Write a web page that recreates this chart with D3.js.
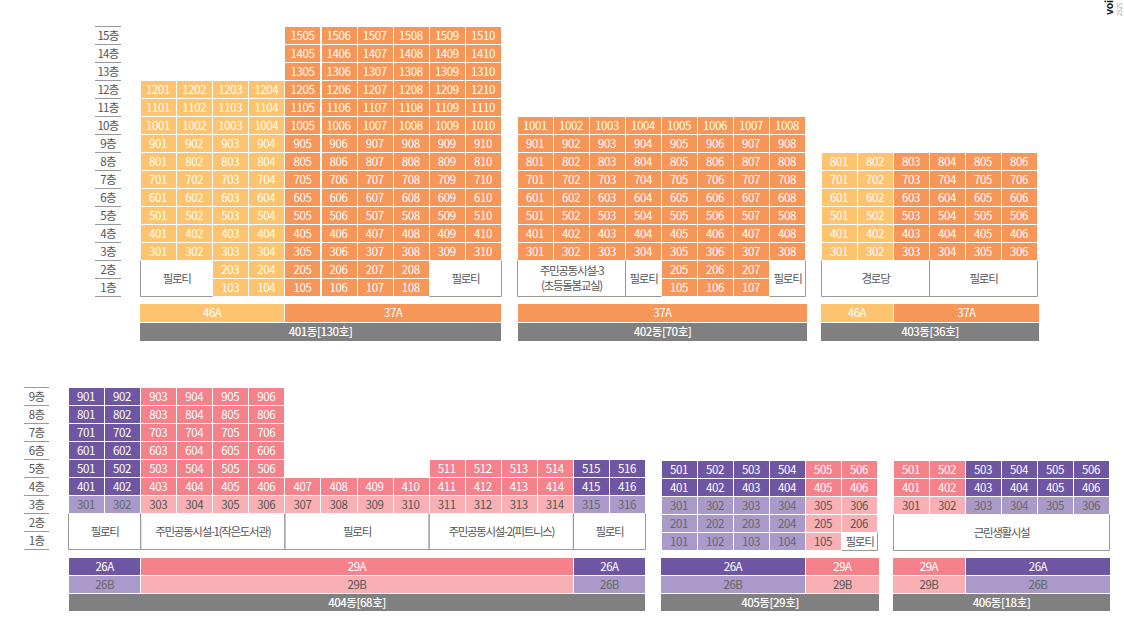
<!DOCTYPE html>
<html>
<head>
<meta charset="utf-8">
<script src="https://cdn.jsdelivr.net/npm/d3@7"></script>
<style>
  body { margin: 0; background: #fff; }
  text { font-family: "Noto Sans CJK KR", sans-serif; }
  rect { shape-rendering: crispEdges; }
</style>
</head>
<body>
<script>
const _ = null;

// Floor labels for the two rows of buildings
const upperFloors = [15, 14, 13, 12, 11, 10, 9, 8, 7, 6, 5, 4, 3, 2, 1];
const lowerFloors = [9, 8, 7, 6, 5, 4, 3, 2, 1];

// Unit types and their colours
const unitTypes = ["46A", "37A", "26A", "26B", "29A", "29B"];
const typeColors = ["#fdc36e", "#f69658", "#6e56a2", "#a99aca", "#f5828a", "#f8b0b4"];
const typeTextColors = ["#fff", "#fff", "#fff", "#666", "#fff", "#555"];

// 401
const types401 = ["46", "46", "46", "46", "37", "37", "37", "37", "37", "37"];
const rows401 = [
  [15, "A", [_, _, _, _, 1505, 1506, 1507, 1508, 1509, 1510]],
  [14, "A", [_, _, _, _, 1405, 1406, 1407, 1408, 1409, 1410]],
  [13, "A", [_, _, _, _, 1305, 1306, 1307, 1308, 1309, 1310]],
  [12, "A", [1201, 1202, 1203, 1204, 1205, 1206, 1207, 1208, 1209, 1210]],
  [11, "A", [1101, 1102, 1103, 1104, 1105, 1106, 1107, 1108, 1109, 1110]],
  [10, "A", [1001, 1002, 1003, 1004, 1005, 1006, 1007, 1008, 1009, 1010]],
  [9, "A", [901, 902, 903, 904, 905, 906, 907, 908, 909, 910]],
  [8, "A", [801, 802, 803, 804, 805, 806, 807, 808, 809, 810]],
  [7, "A", [701, 702, 703, 704, 705, 706, 707, 708, 709, 710]],
  [6, "A", [601, 602, 603, 604, 605, 606, 607, 608, 609, 610]],
  [5, "A", [501, 502, 503, 504, 505, 506, 507, 508, 509, 510]],
  [4, "A", [401, 402, 403, 404, 405, 406, 407, 408, 409, 410]],
  [3, "A", [301, 302, 303, 304, 305, 306, 307, 308, 309, 310]],
  [2, "A", [_, _, 203, 204, 205, 206, 207, 208, _, _]],
  [1, "A", [_, _, 103, 104, 105, 106, 107, 108, _, _]],
];
const rooms401 = [["필로티", 1, 2, 2, 1], ["필로티", 9, 10, 2, 1]];
const spans401 = [["46A", 1, 4], ["37A", 5, 10]];

// 402
const types402 = ["37", "37", "37", "37", "37", "37", "37", "37"];
const rows402 = [
  [10, "A", [1001, 1002, 1003, 1004, 1005, 1006, 1007, 1008]],
  [9, "A", [901, 902, 903, 904, 905, 906, 907, 908]],
  [8, "A", [801, 802, 803, 804, 805, 806, 807, 808]],
  [7, "A", [701, 702, 703, 704, 705, 706, 707, 708]],
  [6, "A", [601, 602, 603, 604, 605, 606, 607, 608]],
  [5, "A", [501, 502, 503, 504, 505, 506, 507, 508]],
  [4, "A", [401, 402, 403, 404, 405, 406, 407, 408]],
  [3, "A", [301, 302, 303, 304, 305, 306, 307, 308]],
  [2, "A", [_, _, _, _, 205, 206, 207, _]],
  [1, "A", [_, _, _, _, 105, 106, 107, _]],
];
const rooms402 = [["주민공동시설-3\n(초등돌봄교실)", 1, 3, 2, 1], ["필로티", 4, 4, 2, 1], ["필로티", 8, 8, 2, 1]];
const spans402 = [["37A", 1, 8]];

// 403
const types403 = ["46", "46", "37", "37", "37", "37"];
const rows403 = [
  [8, "A", [801, 802, 803, 804, 805, 806]],
  [7, "A", [701, 702, 703, 704, 705, 706]],
  [6, "A", [601, 602, 603, 604, 605, 606]],
  [5, "A", [501, 502, 503, 504, 505, 506]],
  [4, "A", [401, 402, 403, 404, 405, 406]],
  [3, "A", [301, 302, 303, 304, 305, 306]],
];
const rooms403 = [["경로당", 1, 3, 2, 1], ["필로티", 4, 6, 2, 1]];
const spans403 = [["46A", 1, 2], ["37A", 3, 6]];

// 404
const types404 = ["26", "26", "29", "29", "29", "29", "29", "29", "29", "29", "29", "29", "29", "29", "26", "26"];
const rows404 = [
  [9, "A", [901, 902, 903, 904, 905, 906, _, _, _, _, _, _, _, _, _, _]],
  [8, "A", [801, 802, 803, 804, 805, 806, _, _, _, _, _, _, _, _, _, _]],
  [7, "A", [701, 702, 703, 704, 705, 706, _, _, _, _, _, _, _, _, _, _]],
  [6, "A", [601, 602, 603, 604, 605, 606, _, _, _, _, _, _, _, _, _, _]],
  [5, "A", [501, 502, 503, 504, 505, 506, _, _, _, _, 511, 512, 513, 514, 515, 516]],
  [4, "A", [401, 402, 403, 404, 405, 406, 407, 408, 409, 410, 411, 412, 413, 414, 415, 416]],
  [3, "B", [301, 302, 303, 304, 305, 306, 307, 308, 309, 310, 311, 312, 313, 314, 315, 316]],
];
const rooms404 = [
  ["필로티", 1, 2, 2, 1],
  ["주민공동시설-1(작은도서관)", 3, 6, 2, 1],
  ["필로티", 7, 10, 2, 1],
  ["주민공동시설-2(피트니스)", 11, 14, 2, 1],
  ["필로티", 15, 16, 2, 1],
];
const spans404 = [["26", 1, 2], ["29", 3, 14], ["26", 15, 16]];

// 405
const types405 = ["26", "26", "26", "26", "29", "29"];
const rows405 = [
  [5, "A", [501, 502, 503, 504, 505, 506]],
  [4, "A", [401, 402, 403, 404, 405, 406]],
  [3, "B", [301, 302, 303, 304, 305, 306]],
  [2, "B", [201, 202, 203, 204, 205, 206]],
  [1, "B", [101, 102, 103, 104, 105, _]],
];
const rooms405 = [["필로티", 6, 6, 1, 1]];
const spans405 = [["26", 1, 4], ["29", 5, 6]];

// 406
const types406 = ["29", "29", "26", "26", "26", "26"];
const rows406 = [
  [5, "A", [501, 502, 503, 504, 505, 506]],
  [4, "A", [401, 402, 403, 404, 405, 406]],
  [3, "B", [301, 302, 303, 304, 305, 306]],
];
const rooms406 = [["근린생활시설", 1, 6, 2, 1]];
const spans406 = [["29", 1, 2], ["26", 3, 6]];

const svg = d3.select("body").append("svg")
  .attr("width", 1124)
  .attr("height", 630);

const color = d3.scaleOrdinal().domain(unitTypes).range(typeColors);
const textColor = d3.scaleOrdinal().domain(unitTypes).range(typeTextColors);

const cellH = 18;
const upperY = d3.scaleBand().domain(upperFloors).range([27, 27 + upperFloors.length * cellH]);
const lowerY = d3.scaleBand().domain(lowerFloors).range([388, 388 + lowerFloors.length * cellH]);
const upperBarY = d3.scaleBand().domain(["A", "name"]).range([304, 342]);
const lowerBarY = d3.scaleBand().domain(["A", "B", "name"]).range([558, 612]);

// Floor ruler: axis for the labels, plus one thin line per band edge
function drawFloors(floors, y, left, right) {
  const g = svg.append("g").attr("transform", `translate(${right},0)`)
    .call(d3.axisLeft(y).tickSize(0).tickFormat(d => d + "층"));
  g.select(".domain").remove();
  g.selectAll("text")
    .attr("x", (left - right) / 2)
    .attr("text-anchor", "middle")
    .attr("font-size", 11.5)
    .attr("letter-spacing", -0.8)
    .attr("font-family", '"Noto Sans CJK KR", sans-serif')
    .attr("fill", "#555");
  const edges = floors.map(f => y(f)).concat(y(floors[floors.length - 1]) + y.step());
  svg.append("g").selectAll("line")
    .data(edges)
    .join("line")
    .attr("x1", left)
    .attr("x2", right)
    .attr("y1", d => d - 0.5)
    .attr("y2", d => d - 0.5)
    .attr("stroke", "#999");
}

function drawDong(name, xRange, y, barY, shift, lineTypes, rows, rooms, spans, barFrom, barTo) {
  const lines = lineTypes.map((d, i) => i + 1);
  const x = d3.scaleBand().domain(lines).range(xRange);
  const g = svg.append("g").attr("transform", `translate(0,${shift})`);

  const units = rows.flatMap(([floor, wing, nums]) =>
    nums.map((num, i) => ({ num, floor, line: i + 1, type: lineTypes[i] + wing })).filter(d => d.num !== null));
  const occupied = new Set(units.map(d => d.line + "-" + d.floor));

  const cell = g.selectAll("g.cell")
    .data(units)
    .join("g")
    .attr("class", "cell")
    .attr("transform", d => `translate(${x(d.line)},${y(d.floor)})`);
  cell.append("rect")
    .attr("width", x.bandwidth() - 1)
    .attr("height", y.bandwidth() - 1)
    .attr("fill", d => color(d.type));
  cell.append("text")
    .attr("x", (x.bandwidth() - 1) / 2 - 0.5)
    .attr("y", (y.bandwidth() - 1) / 2)
    .attr("dy", "0.36em")
    .attr("text-anchor", "middle")
    .attr("font-size", 11.5)
    .attr("letter-spacing", -0.4)
    .attr("fill", d => textColor(d.type))
    .text(d => d.num);

  // Non-residential blocks: a side only gets a line when no unit sits next to it
  rooms.forEach(([label, from, to, top, bottom]) => {
    const x0 = x(from) - 0.5;
    const x1 = x(to) + x.bandwidth() - 0.5;
    const y0 = y(top) - 0.5;
    const y1 = y(bottom) + y.bandwidth() - 0.5;
    const openLeft = occupied.has((from - 1) + "-" + top);
    const openRight = occupied.has((to + 1) + "-" + top);
    const path = d3.path();
    path.moveTo(x0, y1);
    path.lineTo(x1, y1);
    if (!openLeft) { path.moveTo(x0, y0); path.lineTo(x0, y1); }
    if (!openRight) { path.moveTo(x1, y0); path.lineTo(x1, y1); }
    g.append("path").attr("d", path.toString()).attr("fill", "none").attr("stroke", "#999");

    const parts = label.split("\n");
    const t = g.append("text")
      .attr("text-anchor", "middle")
      .attr("font-size", 11.5)
      .attr("letter-spacing", -1.3)
      .attr("fill", "#555");
    parts.forEach((part, i) => {
      t.append("tspan")
        .attr("x", (x0 + x1) / 2)
        .attr("y", (y0 + y1) / 2 + (i - (parts.length - 1) / 2) * 15)
        .attr("dy", "0.36em")
        .text(part);
    });
  });

  // Type bars under the building, then the grey name bar
  const barRows = barY.domain().filter(d => d !== "name");
  barRows.forEach(wing => {
    spans.forEach(([label, from, to], i) => {
      const type = label.length === 3 ? label : label + wing;
      const isFirst = i === 0;
      const isLast = i === spans.length - 1;
      const x0 = isFirst ? x(from) + barFrom : x(from);
      const x1 = isLast ? x(to) + x.bandwidth() + barTo : x(to) + x.bandwidth() - 1;
      svg.append("rect")
        .attr("x", x0)
        .attr("y", barY(wing))
        .attr("width", x1 - x0)
        .attr("height", barY.bandwidth() - 1)
        .attr("fill", color(type));
      svg.append("text")
        .attr("x", (x0 + x1) / 2)
        .attr("y", barY(wing) + (barY.bandwidth() - 1) / 2)
        .attr("dy", "0.36em")
        .attr("text-anchor", "middle")
        .attr("font-size", 11.5)
        .attr("letter-spacing", -0.5)
        .attr("fill", textColor(type))
        .text(type);
    });
  });
  const nameX0 = x(1) + barFrom;
  const nameX1 = x(lines.length) + x.bandwidth() + barTo;
  svg.append("rect")
    .attr("x", nameX0)
    .attr("y", barY("name"))
    .attr("width", nameX1 - nameX0)
    .attr("height", barY.bandwidth() - 1)
    .attr("fill", "#808080");
  svg.append("text")
    .attr("x", (nameX0 + nameX1) / 2)
    .attr("y", barY("name") + (barY.bandwidth() - 1) / 2)
    .attr("dy", "0.36em")
    .attr("text-anchor", "middle")
    .attr("font-size", 11.5)
    .attr("font-weight", 500)
    .attr("letter-spacing", -0.5)
    .attr("fill", "#fff")
    .text(name);
}

drawFloors(upperFloors, upperY, 95, 121);
drawFloors(lowerFloors, lowerY, 24, 49);

drawDong("401동[130호]", [141, 502], upperY, upperBarY, 0, types401, rows401, rooms401, spans401, -1, -1);
drawDong("402동[70호]", [518, 806], upperY, upperBarY, 0, types402, rows402, rooms402, spans402, 0, 1);
drawDong("403동[36호]", [822, 1038], upperY, upperBarY, 0, types403, rows403, rooms403, spans403, -1, 1);
drawDong("404동[68호]", [69, 646], lowerY, lowerBarY, 0, types404, rows404, rooms404, spans404, 0, -1);
drawDong("405동[29호]", [662, 878], lowerY, lowerBarY, 1, types405, rows405, rooms405, spans405, -1, 1);
drawDong("406동[18호]", [894, 1110], lowerY, lowerBarY, 1, types406, rows406, rooms406, spans406, -1, 0);

// Side caption in the top right corner
svg.append("text")
  .attr("transform", "translate(1113,15) rotate(-90)")
  .attr("font-size", 10.5)
  .attr("font-weight", 700)
  .attr("letter-spacing", -0.3)
  .attr("fill", "#111")
  .text("voi");
svg.append("text")
  .attr("transform", "translate(1122,16) rotate(-90)")
  .attr("font-size", 6)
  .attr("fill", "#999")
  .text("2525");
</script>
</body>
</html>
